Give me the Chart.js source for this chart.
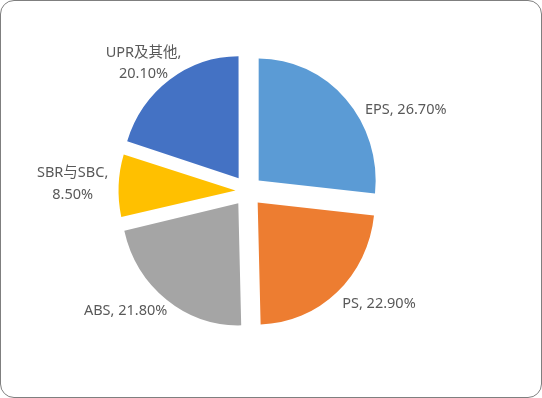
<!DOCTYPE html>
<html>
<head>
<meta charset="utf-8">
<script src="https://cdn.jsdelivr.net/npm/chart.js@4/dist/chart.umd.min.js"></script>
<style>
    html, body { margin: 0; padding: 0; background: #fff; }
    #frame {
        width: 540px;
        height: 396px;
        border: 1px solid #7f7f7f;
        border-radius: 14px;
        position: relative;
        overflow: hidden;
    }
    #pie { display: block; }
</style>
</head>
<body>
<div id="frame">
    <canvas id="pie" width="540" height="396"></canvas>
</div>
<script>
// Chart data
const categories = ['EPS', 'PS', 'ABS', 'SBR与SBC', 'UPR及其他'];
const shares = [26.7, 22.9, 21.8, 8.5, 20.1];
const sliceColors = ['#5B9BD5', '#ED7D31', '#A5A5A5', '#FFC000', '#4472C4'];

// Chart.js moves an arc by offset/4 and grows narrow arcs by offset/4 * fix;
// undo the growth so every slice keeps the same radius
const keepRadius = {
    id: 'keepRadius',
    afterDatasetUpdate(chart, args) {
        const ds = chart.data.datasets[args.index];
        args.meta.data.forEach((arc, i) => {
            const circ = arc.endAngle - arc.startAngle;
            const fix = 1 - Math.sin(Math.min(Math.PI, circ));
            arc.outerRadius -= (ds.offset[i] || 0) / 4 * fix;
        });
    }
};

// The original picture is slightly taller than wide, stretch the pie a bit
const stretch = {
    id: 'stretch',
    beforeDatasetsDraw(chart, args, opts) {
        const arc = chart.getDatasetMeta(0).data[0];
        const ctx = chart.ctx;
        ctx.save();
        ctx.translate(arc.x, arc.y);
        ctx.scale(1, opts.scaleY);
        ctx.translate(-arc.x, -arc.y);
    },
    afterDatasetsDraw(chart) {
        chart.ctx.restore();
    }
};

// Excel-style labels placed outside each slice
const outsideLabels = {
    id: 'outsideLabels',
    afterDatasetsDraw(chart, args, opts) {
        const ctx = chart.ctx;
        const meta = chart.getDatasetMeta(0);
        const ds = chart.data.datasets[0];
        ctx.save();
        ctx.font = opts.font;
        ctx.fillStyle = opts.color;
        ctx.textAlign = 'center';
        ctx.textBaseline = 'middle';
        meta.data.forEach((arc, i) => {
            const p = arc.getProps(['x', 'y', 'startAngle', 'endAngle'], true);
            const mid = (p.startAngle + p.endAngle) / 2;
            const dist = chart.options.radius + (ds.offset[i] || 0) / 4;
            const ax = p.x + Math.cos(mid) * dist;
            const ay = p.y + Math.sin(mid) * dist;
            const value = ds.data[i].toFixed(2) + '%';
            const name = chart.data.labels[i];
            const lines = opts.wrap[i] ? [name + ',', value] : [name + ', ' + value];
            const cx = ax + opts.shift[i][0];
            const cy = ay + opts.shift[i][1];
            const top = cy - (lines.length - 1) * opts.lineHeight / 2;
            lines.forEach((line, j) => {
                ctx.fillText(line, cx, top + j * opts.lineHeight);
            });
        });
        ctx.restore();
    }
};

const ctx = document.getElementById('pie').getContext('2d');
const chart = new Chart(ctx, {
    type: 'pie',
    data: {
        labels: categories,
        datasets: [{
            data: shares,
            backgroundColor: sliceColors,
            borderWidth: 0,
            offset: [60, 60, 60, 48, 60],
            hoverOffset: 0
        }]
    },
    options: {
        responsive: false,
        animation: false,
        radius: 117,
        layout: {
            padding: { left: 0, top: 0, right: 47, bottom: 16 }
        },
        plugins: {
            legend: { display: false },
            tooltip: { enabled: false },
            stretch: { scaleY: 1.043 },
            outsideLabels: {
                font: '14.5px "Noto Sans", "Noto Sans CJK SC", sans-serif',
                color: '#595959',
                lineHeight: 21.5,
                wrap: [false, false, false, true, true],
                shift: [[60, 7], [42, 16], [-41, 16], [-46, -2], [-26, -21]]
            }
        }
    },
    plugins: [keepRadius, stretch, outsideLabels]
});
</script>
</body>
</html>
